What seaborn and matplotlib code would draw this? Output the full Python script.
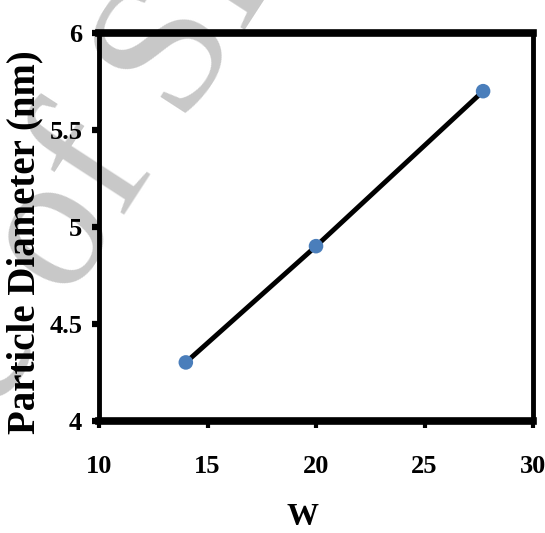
import matplotlib
matplotlib.use("Agg")
import matplotlib.pyplot as plt
import seaborn as sns
import pandas as pd

# dados
w_values = [14, 20, 27.7]
diameter_nm = [4.3, 4.9, 5.7]
x_ticks = [10, 15, 20, 25, 30]
y_ticks = [4, 4.5, 5, 5.5, 6]
y_tick_labels = ["4", "4.5", "5", "5.5", "6"]

df = pd.DataFrame({"W": w_values, "d": diameter_nm})

sns.set_theme(style="white")
plt.rcParams["font.family"] = ["Liberation Serif", "DejaVu Serif"]

fig = plt.figure(figsize=(5.45, 5.33), dpi=100)
ax = fig.add_axes([0.1817, 0.211, 0.9780 - 0.1817, 0.938 - 0.211])
ax.set_facecolor("none")

# marca d'agua ao fundo
fig.text(-0.55, -0.63, "Archive of SID", rotation=57, rotation_mode="anchor",
         ha="left", va="baseline", fontsize=140, color="#c8c8c8", zorder=-1)

sns.lineplot(data=df, x="W", y="d", ax=ax, color="black", linewidth=3.5, zorder=2)
sns.scatterplot(data=df, x="W", y="d", ax=ax, color="#4a7ebb", s=110,
                edgecolor="none", zorder=3, clip_on=False)

ax.set_xlim(10, 30)
ax.set_ylim(4, 6)
ax.set_xticks(x_ticks)
ax.set_yticks(y_ticks)
ax.set_yticklabels(y_tick_labels)

for side in ["top", "bottom"]:
    ax.spines[side].set_linewidth(5.5)
    ax.spines[side].set_color("black")
for side in ["left", "right"]:
    ax.spines[side].set_linewidth(3.5)
    ax.spines[side].set_color("black")

ax.tick_params(axis="x", direction="out", length=5, width=3, color="black",
               bottom=True, pad=20, labelsize=19)
ax.tick_params(axis="y", direction="out", length=5, width=4.5, color="black",
               left=True, pad=7, labelsize=19)
for lab in ax.get_xticklabels() + ax.get_yticklabels():
    lab.set_fontweight("bold")
    lab.set_color("black")

ax.set_xlabel("W", fontsize=23, fontweight="bold", color="black", va="center")
ax.set_ylabel("Particle Diameter (nm)", fontsize=28, fontweight="bold",
              color="black", va="center")
ax.xaxis.set_label_coords(0.47, -0.25)
ax.yaxis.set_label_coords(-0.17, 0.46)

fig.savefig("out.png", dpi=100)
